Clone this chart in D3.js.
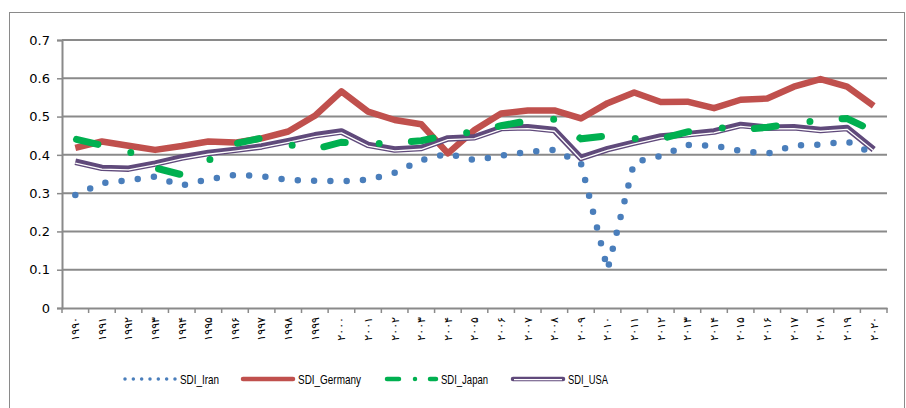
<!DOCTYPE html>
<html>
<head>
<meta charset="utf-8">
<script src="https://cdn.jsdelivr.net/npm/d3@7/dist/d3.min.js"></script>
<style>
  body { margin: 0; background: #ffffff; }
  svg { display: block; }
</style>
</head>
<body>
<div id="chart"></div>
<script>
// categories (years) and their Persian tick labels
var years = [1990, 1991, 1992, 1993, 1994, 1995, 1996, 1997, 1998, 1999, 2000,
  2001, 2002, 2003, 2004, 2005, 2006, 2007, 2008, 2009, 2010,
  2011, 2012, 2013, 2014, 2015, 2016, 2017, 2018, 2019, 2020];
var yearLabels = ["۱۹۹۰", "۱۹۹۱", "۱۹۹۲", "۱۹۹۳", "۱۹۹۴", "۱۹۹۵", "۱۹۹۶", "۱۹۹۷", "۱۹۹۸", "۱۹۹۹", "۲۰۰۰",
  "۲۰۰۱", "۲۰۰۲", "۲۰۰۳", "۲۰۰۴", "۲۰۰۵", "۲۰۰۶", "۲۰۰۷", "۲۰۰۸", "۲۰۰۹", "۲۰۱۰",
  "۲۰۱۱", "۲۰۱۲", "۲۰۱۳", "۲۰۱۴", "۲۰۱۵", "۲۰۱۶", "۲۰۱۷", "۲۰۱۸", "۲۰۱۹", "۲۰۲۰"];

// series values
var sdiIran = [0.295, 0.326, 0.334, 0.343, 0.320, 0.336, 0.348, 0.344, 0.335, 0.332, 0.331,
  0.335, 0.353, 0.386, 0.403, 0.386, 0.398, 0.408, 0.413, 0.378, 0.100,
  0.381, 0.397, 0.426, 0.424, 0.410, 0.403, 0.424, 0.427, 0.435, 0.403];
var sdiGermany = [0.418, 0.435, 0.424, 0.413, 0.423, 0.435, 0.432, 0.443, 0.461, 0.502, 0.566,
  0.513, 0.491, 0.480, 0.404, 0.465, 0.508, 0.516, 0.516, 0.495, 0.535,
  0.563, 0.538, 0.539, 0.522, 0.544, 0.547, 0.578, 0.598, 0.578, 0.528];
var sdiJapan = [0.441, 0.425, 0.410, 0.366, 0.348, 0.385, 0.429, 0.444, 0.427, 0.415, 0.433,
  0.428, 0.432, 0.437, 0.452, 0.460, 0.476, 0.489, 0.493, 0.442, 0.450,
  0.443, 0.442, 0.460, 0.472, 0.465, 0.472, 0.482, 0.490, 0.495, 0.462];
var sdiUSA = [0.382, 0.366, 0.364, 0.377, 0.393, 0.405, 0.413, 0.422, 0.436, 0.451, 0.461,
  0.426, 0.414, 0.418, 0.443, 0.446, 0.470, 0.472, 0.465, 0.392, 0.415,
  0.432, 0.448, 0.454, 0.461, 0.478, 0.471, 0.472, 0.465, 0.470, 0.414];

var yTicks = [0, 0.1, 0.2, 0.3, 0.4, 0.5, 0.6, 0.7];
var seriesNames = ["SDI_Iran", "SDI_Germany", "SDI_Japan", "SDI_USA"];

var width = 906;
var height = 408;
// plot area edges (note: "top" is reserved on window, so use other names)
var plotLeft = 62, plotRight = 887, plotTop = 40, plotBottom = 308;
var gridColor = "#8a8a8a";

var svg = d3.select("#chart")
  .append("svg")
  .attr("width", width)
  .attr("height", height);

// outer chart frame
svg.append("rect")
  .attr("x", 9.5)
  .attr("y", 12.5)
  .attr("width", 895)
  .attr("height", 420)
  .style("fill", "none")
  .style("stroke", gridColor)
  .style("stroke-width", "1px");

var x = d3.scaleBand()
  .domain(years)
  .range([plotLeft, plotRight]);

var y = d3.scaleLinear()
  .domain([0, 0.7])
  .range([plotBottom, plotTop]);

var cx = function(d) { return x(d) + x.bandwidth() / 2; };

// horizontal gridlines
svg.append("g")
  .selectAll("line")
  .data(yTicks.filter(function(t) { return t > 0; }))
  .enter()
  .append("line")
  .attr("x1", plotLeft)
  .attr("x2", plotRight)
  .attr("y1", function(d) { return y(d); })
  .attr("y2", function(d) { return y(d); })
  .style("stroke", gridColor)
  .style("stroke-width", "2px");

// y axis
var yAxis = svg.append("g")
  .attr("transform", "translate(" + plotLeft + ",0)")
  .call(d3.axisLeft(y).tickValues(yTicks).tickSize(5).tickFormat(function(d) { return d === 0 ? "0" : d3.format(".1f")(d); }));

yAxis.selectAll(".tick text")
  .attr("x", -12)
  .style("font-family", "'DejaVu Sans', sans-serif")
  .style("font-size", "13px")
  .style("fill", "#000");
yAxis.select("path").style("stroke", gridColor).style("stroke-width", "2px");
yAxis.selectAll(".tick line").style("stroke", gridColor).style("stroke-width", "1.5px");

// x axis with ticks between categories
var xAxis = svg.append("g")
  .attr("transform", "translate(0," + plotBottom + ")")
  .call(d3.axisBottom(x).tickSize(0).tickFormat(function(d, i) { return yearLabels[i]; }));

xAxis.select("path").style("stroke", gridColor).style("stroke-width", "2px");
xAxis.selectAll(".tick text")
  .attr("transform", "translate(0,9) rotate(-90)")
  .attr("text-anchor", "end")
  .attr("x", 0)
  .attr("y", 0)
  .attr("dy", "0.35em")
  .style("font-family", "'DejaVu Sans', sans-serif")
  .style("font-size", "11px")
  .style("fill", "#000");

svg.append("g")
  .selectAll("line")
  .data(years.concat(["end"]))
  .enter()
  .append("line")
  .attr("x1", function(d) { return d === "end" ? plotRight : x(d); })
  .attr("x2", function(d) { return d === "end" ? plotRight : x(d); })
  .attr("y1", plotBottom)
  .attr("y2", plotBottom + 5)
  .style("stroke", gridColor)
  .style("stroke-width", "1.5px");

var line = d3.line()
  .x(function(d, i) { return cx(years[i]); })
  .y(function(d) { return y(d); });

// SDI_Germany: thick red line
svg.append("path")
  .datum(sdiGermany)
  .attr("d", line)
  .style("fill", "none")
  .style("stroke", "#c0504d")
  .style("stroke-width", "6.5px")
  .style("stroke-linejoin", "round");

// SDI_USA: double purple line
svg.append("path")
  .datum(sdiUSA)
  .attr("d", line)
  .style("fill", "none")
  .style("stroke", "#604a7b")
  .style("stroke-width", "6.5px")
  .style("stroke-linejoin", "round");
svg.append("path")
  .datum(sdiUSA)
  .attr("d", line)
  .attr("transform", "translate(0,1.3)")
  .style("fill", "none")
  .style("stroke", "#ffffff")
  .style("stroke-width", "1.3px")
  .style("stroke-linejoin", "round");

// SDI_Japan: green dash-dot
svg.append("path")
  .datum(sdiJapan)
  .attr("d", line)
  .style("fill", "none")
  .style("stroke", "#00b050")
  .style("stroke-width", "7px")
  .style("stroke-linecap", "round")
  .style("stroke-dasharray", "22 34 0 32.3")
  .style("stroke-dashoffset", "-1.2");

// SDI_Iran: blue round dots
svg.append("path")
  .datum(sdiIran)
  .attr("d", line)
  .style("fill", "none")
  .style("stroke", "#4a7ebb")
  .style("stroke-width", "6.5px")
  .style("stroke-linecap", "round")
  .style("stroke-dasharray", "0 16.3");

// Legend
var legendY = 379;
var legendItems = [
  { name: seriesNames[0], x1: 125, x2: 175, tx: 180, w: 39 },
  { name: seriesNames[1], x1: 243, x2: 293, tx: 298, w: 63 },
  { name: seriesNames[2], x1: 387, x2: 437, tx: 441, w: 47 },
  { name: seriesNames[3], x1: 513, x2: 563, tx: 568, w: 40 }
];

var lg = svg.append("g");
lg.append("line")
  .attr("x1", legendItems[0].x1).attr("x2", legendItems[0].x2 + 1)
  .attr("y1", legendY).attr("y2", legendY)
  .style("stroke", "#4a7ebb").style("stroke-width", "3.5px")
  .style("stroke-linecap", "round").style("stroke-dasharray", "0 8.33");
lg.append("line")
  .attr("x1", legendItems[1].x1).attr("x2", legendItems[1].x2)
  .attr("y1", legendY).attr("y2", legendY)
  .style("stroke", "#c0504d").style("stroke-width", "4.5px")
  .style("stroke-linecap", "round");
lg.append("line")
  .attr("x1", legendItems[2].x1).attr("x2", legendItems[2].x2)
  .attr("y1", legendY).attr("y2", legendY)
  .style("stroke", "#00b050").style("stroke-width", "4.5px")
  .style("stroke-linecap", "round").style("stroke-dasharray", "12 16 0 15 6 20");
lg.append("line")
  .attr("x1", legendItems[3].x1).attr("x2", legendItems[3].x2)
  .attr("y1", legendY).attr("y2", legendY)
  .style("stroke", "#604a7b").style("stroke-width", "4.5px")
  .style("stroke-linecap", "round");
lg.append("line")
  .attr("x1", legendItems[3].x1 + 1).attr("x2", legendItems[3].x2 - 1)
  .attr("y1", legendY + 0.6).attr("y2", legendY + 0.6)
  .style("stroke", "#ffffff").style("stroke-width", "1.1px");

lg.selectAll("text")
  .data(legendItems)
  .enter()
  .append("text")
  .attr("x", function(d) { return d.tx; })
  .attr("y", legendY + 5)
  .attr("textLength", function(d) { return d.w; })
  .attr("lengthAdjust", "spacingAndGlyphs")
  .text(function(d) { return d.name; })
  .style("font-family", "'Liberation Sans', sans-serif")
  .style("font-size", "13.5px")
  .style("fill", "#000");
</script>
</body>
</html>
